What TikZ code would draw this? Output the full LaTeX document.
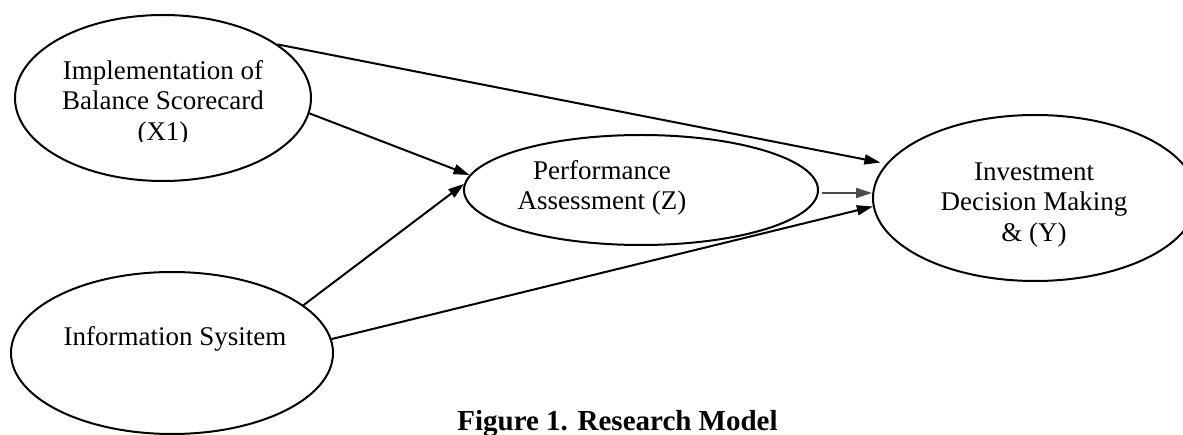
\documentclass[tikz,border=0pt]{standalone}
\usepackage{fontspec}
\setmainfont{Liberation Serif}
\usetikzlibrary{shapes.geometric,arrows.meta}
\begin{document}
\begin{tikzpicture}[x=1pt,y=1pt,
  construct/.style={draw,ellipse,line width=2pt,inner sep=0pt},
  label/.style={align=center,font=\fontsize{27}{30.5}\selectfont,inner sep=0pt},
  path/.style={line width=2pt,-{Triangle[length=16pt,width=10pt]}},
  grey path/.style={path,draw=black!70}]
\useasboundingbox (0,0) rectangle (1183,434);
\clip (0,0) rectangle (1183,434);
% constructs
\node[construct,minimum width=296pt,minimum height=166pt] (x1) at (163,336) {};
\node[construct,minimum width=322pt,minimum height=162pt] (is) at (172,81) {};
\node[construct,minimum width=354pt,minimum height=110pt] (z) at (641,244) {};
\node[construct,minimum width=324pt,minimum height=166pt] (y) at (1035,236) {};
% labels
\begin{scope}
\clip (0,292) rectangle (400,434);
\node[label] (x1t) at (163,331) {Implementation of\\Balance Scorecard\\(X1)};
\end{scope}
\node[label] (ist) at (175,95) {Information Sysitem};
\node[label] (zt) at (602,246) {Performance\\Assessment (Z)};
\node[label] (yt) at (1034,229) {Investment\\Decision Making\\\& (Y)};
% connectors
\draw[path,shorten >=6pt] (x1.25) -- (y.167);
\draw[path] (x1.-6.6) -- (z.175.8);
\draw[path] (is.20.3) -- (z.178);
\draw[path] (is.5.7) -- (y.183.5);
\coordinate (zr) at ([shift={(3,-3)}]z.east);
\draw[grey path] (zr) -- (zr -| y.west);
% caption
\node[anchor=base,font=\fontsize{29}{32}\selectfont\bfseries,inner sep=0pt] (cap) at (617.5,4) {Figure 1. Research Model};
\end{tikzpicture}
\end{document}
